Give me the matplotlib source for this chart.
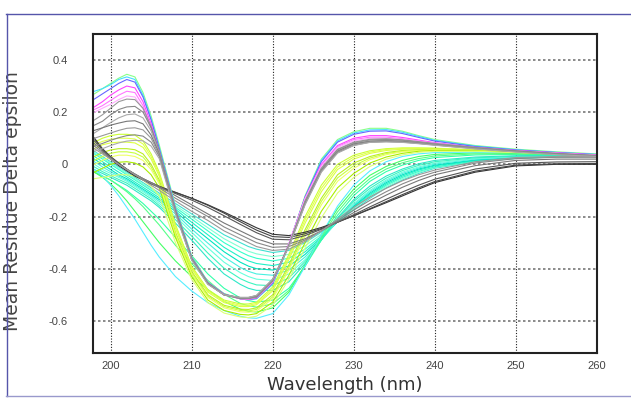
import matplotlib
matplotlib.use("Agg")
import matplotlib.pyplot as plt
from matplotlib.lines import Line2D

# longitudes de onda (nm)
wavelength = [198, 199, 200, 201, 202, 203, 204, 205, 206, 208, 210, 212, 214, 216, 217,
              218, 220, 222, 224, 226, 228, 230, 232, 234, 236, 238, 240, 245, 250, 255, 260]

# espectros turquesa (se despliegan)
turq_spectra = [
    [0.05, 0.03, 0.01, -0.01, -0.03, -0.05, -0.07, -0.09, -0.11, -0.15, -0.19, -0.23, -0.27, -0.30, -0.315,
     -0.325, -0.338, -0.33, -0.30, -0.26, -0.22, -0.175, -0.13, -0.09, -0.06, -0.035, -0.015, 0.01, 0.022, 0.028, 0.03],
    [0.045, 0.025, 0.005, -0.015, -0.035, -0.055, -0.075, -0.095, -0.115, -0.158, -0.20, -0.243, -0.285, -0.318, -0.333,
     -0.343, -0.354, -0.345, -0.312, -0.268, -0.22, -0.17, -0.125, -0.085, -0.055, -0.031, -0.012, 0.012, 0.023, 0.029, 0.031],
    [0.04, 0.02, 0.0, -0.02, -0.04, -0.06, -0.08, -0.10, -0.12, -0.165, -0.21, -0.255, -0.30, -0.335, -0.35,
     -0.36, -0.37, -0.36, -0.325, -0.275, -0.22, -0.165, -0.12, -0.08, -0.05, -0.027, -0.01, 0.013, 0.023, 0.029, 0.031],
    [0.03, 0.01, -0.01, -0.03, -0.048, -0.068, -0.088, -0.108, -0.128, -0.172, -0.222, -0.27, -0.318, -0.355, -0.37,
     -0.38, -0.388, -0.375, -0.335, -0.28, -0.22, -0.162, -0.115, -0.075, -0.045, -0.022, -0.006, 0.015, 0.025, 0.03, 0.032],
    [0.02, 0.0, -0.02, -0.04, -0.055, -0.075, -0.095, -0.115, -0.135, -0.18, -0.235, -0.285, -0.335, -0.375, -0.39,
     -0.40, -0.405, -0.39, -0.345, -0.285, -0.22, -0.16, -0.11, -0.07, -0.04, -0.018, -0.003, 0.017, 0.026, 0.031, 0.032],
    [0.01, -0.01, -0.028, -0.045, -0.06, -0.08, -0.10, -0.12, -0.142, -0.19, -0.248, -0.302, -0.355, -0.395, -0.41,
     -0.42, -0.425, -0.405, -0.355, -0.288, -0.218, -0.155, -0.105, -0.065, -0.035, -0.014, 0.001, 0.02, 0.028, 0.032, 0.033],
    [0.0, -0.02, -0.035, -0.05, -0.065, -0.085, -0.105, -0.125, -0.15, -0.20, -0.26, -0.32, -0.375, -0.415, -0.43,
     -0.44, -0.445, -0.42, -0.365, -0.29, -0.215, -0.15, -0.10, -0.06, -0.03, -0.01, 0.005, 0.022, 0.03, 0.033, 0.034],
    [-0.01, -0.028, -0.043, -0.058, -0.072, -0.092, -0.112, -0.132, -0.158, -0.212, -0.275, -0.34, -0.398, -0.438, -0.452,
     -0.462, -0.465, -0.435, -0.372, -0.29, -0.21, -0.142, -0.092, -0.053, -0.024, -0.004, 0.01, 0.025, 0.031, 0.034, 0.034],
    [-0.02, -0.035, -0.05, -0.065, -0.08, -0.10, -0.12, -0.14, -0.165, -0.225, -0.29, -0.36, -0.42, -0.46, -0.475,
     -0.483, -0.483, -0.45, -0.38, -0.29, -0.205, -0.135, -0.083, -0.045, -0.018, 0.002, 0.015, 0.028, 0.033, 0.035, 0.035],
    [-0.03, -0.045, -0.06, -0.08, -0.10, -0.125, -0.15, -0.18, -0.21, -0.28, -0.35, -0.42, -0.475, -0.512, -0.522,
     -0.528, -0.52, -0.475, -0.39, -0.29, -0.195, -0.12, -0.065, -0.028, -0.003, 0.015, 0.026, 0.036, 0.038, 0.037, 0.036],
    [-0.03, -0.045, -0.06, -0.082, -0.105, -0.132, -0.162, -0.197, -0.232, -0.31, -0.38, -0.445, -0.498, -0.533, -0.542,
     -0.547, -0.535, -0.483, -0.388, -0.28, -0.182, -0.108, -0.054, -0.018, 0.006, 0.022, 0.032, 0.04, 0.04, 0.038, 0.036],
    [-0.03, -0.05, -0.075, -0.105, -0.14, -0.18, -0.22, -0.26, -0.30, -0.37, -0.43, -0.48, -0.525, -0.555, -0.563,
     -0.566, -0.55, -0.49, -0.385, -0.27, -0.17, -0.095, -0.042, -0.008, 0.015, 0.03, 0.038, 0.044, 0.042, 0.04, 0.037],
    [-0.02, -0.045, -0.08, -0.12, -0.165, -0.21, -0.26, -0.31, -0.355, -0.43, -0.485, -0.53, -0.56, -0.582, -0.588,
     -0.59, -0.572, -0.50, -0.39, -0.27, -0.16, -0.08, -0.025, 0.01, 0.03, 0.04, 0.045, 0.047, 0.045, 0.041, 0.038],
]
turq_colors = ["#40E0D0", "#7FFFD4", "#33FFCC", "#20F0C8", "#00E5C0", "#48F0E0", "#66FFDD",
               "#3CF5C0", "#2EE8C8", "#33FFAA", "#55FF88", "#44FF66", "#55EEFF"]

# espectros amarillo-verde
yellow_spectra = [
    [0.085, 0.10, 0.11, 0.115, 0.115, 0.112, 0.09, 0.04, -0.03, -0.23, -0.39, -0.48, -0.52, -0.535, -0.535,
     -0.528, -0.47, -0.345, -0.20, -0.08, 0.0, 0.035, 0.052, 0.06, 0.063, 0.063, 0.062, 0.055, 0.048, 0.04, 0.035],
    [0.075, 0.088, 0.096, 0.10, 0.10, 0.097, 0.078, 0.03, -0.038, -0.238, -0.395, -0.485, -0.525, -0.54, -0.54,
     -0.533, -0.478, -0.355, -0.212, -0.092, -0.01, 0.028, 0.047, 0.057, 0.061, 0.062, 0.061, 0.055, 0.048, 0.04, 0.035],
    [0.06, 0.075, 0.082, 0.085, 0.085, 0.082, 0.065, 0.02, -0.045, -0.245, -0.40, -0.49, -0.53, -0.545, -0.545,
     -0.538, -0.485, -0.365, -0.225, -0.105, -0.02, 0.02, 0.042, 0.053, 0.058, 0.06, 0.06, 0.055, 0.048, 0.04, 0.035],
    [0.03, 0.045, 0.055, 0.06, 0.06, 0.056, 0.04, 0.0, -0.06, -0.26, -0.41, -0.50, -0.54, -0.555, -0.556,
     -0.55, -0.50, -0.385, -0.25, -0.13, -0.04, 0.005, 0.03, 0.045, 0.053, 0.056, 0.058, 0.054, 0.047, 0.04, 0.035],
    [0.015, 0.03, 0.042, 0.048, 0.048, 0.043, 0.028, -0.01, -0.068, -0.265, -0.415, -0.505, -0.545, -0.56, -0.562,
     -0.556, -0.508, -0.395, -0.262, -0.142, -0.052, -0.005, 0.024, 0.041, 0.05, 0.054, 0.056, 0.053, 0.047, 0.04, 0.035],
    [0.0, 0.015, 0.028, 0.035, 0.035, 0.03, 0.015, -0.02, -0.075, -0.27, -0.42, -0.51, -0.55, -0.565, -0.567,
     -0.562, -0.515, -0.405, -0.275, -0.155, -0.065, -0.015, 0.018, 0.037, 0.048, 0.053, 0.055, 0.053, 0.047, 0.04, 0.035],
    [-0.03, -0.015, 0.0, 0.008, 0.01, 0.005, -0.01, -0.04, -0.09, -0.28, -0.43, -0.52, -0.56, -0.575, -0.577,
     -0.572, -0.528, -0.425, -0.30, -0.18, -0.09, -0.035, 0.005, 0.028, 0.042, 0.05, 0.053, 0.052, 0.046, 0.04, 0.035],
    [-0.055, -0.05, -0.045, -0.04, -0.04, -0.045, -0.06, -0.085, -0.12, -0.30, -0.44, -0.53, -0.57, -0.585, -0.587,
     -0.582, -0.54, -0.44, -0.32, -0.205, -0.11, -0.05, -0.008, 0.02, 0.036, 0.046, 0.05, 0.05, 0.045, 0.04, 0.035],
]
yellow_colors = ["#CCFF33", "#E0FF50", "#DDFF44", "#BBEE22", "#C8FF40", "#EEFF66", "#AAEE00", "#DDFF77"]

# espectros grises oscuros (desnaturalizados)
dark_spectra = [
    [0.10, 0.055, 0.02, -0.005, -0.025, -0.045, -0.06, -0.075, -0.088, -0.108, -0.13, -0.155, -0.183, -0.213, -0.228,
     -0.243, -0.268, -0.273, -0.26, -0.242, -0.22, -0.197, -0.172, -0.147, -0.121, -0.095, -0.07, -0.03, -0.006, 0.0, 0.0],
    [0.10, 0.06, 0.03, 0.005, -0.018, -0.038, -0.055, -0.07, -0.084, -0.107, -0.13, -0.157, -0.187, -0.22, -0.236,
     -0.252, -0.277, -0.28, -0.266, -0.246, -0.222, -0.197, -0.17, -0.143, -0.116, -0.09, -0.066, -0.026, -0.003, 0.002, 0.003],
    [0.09, 0.055, 0.027, 0.003, -0.02, -0.04, -0.057, -0.072, -0.087, -0.112, -0.137, -0.165, -0.197, -0.23, -0.246,
     -0.262, -0.287, -0.289, -0.273, -0.249, -0.222, -0.193, -0.163, -0.134, -0.106, -0.08, -0.057, -0.018, 0.004, 0.009, 0.01],
    [0.08, 0.05, 0.025, 0.0, -0.02, -0.038, -0.055, -0.07, -0.085, -0.12, -0.155, -0.19, -0.225, -0.255, -0.27,
     -0.285, -0.305, -0.305, -0.285, -0.255, -0.22, -0.185, -0.15, -0.118, -0.088, -0.062, -0.04, -0.005, 0.015, 0.02, 0.02],
    [0.07, 0.045, 0.02, 0.0, -0.02, -0.037, -0.055, -0.072, -0.09, -0.13, -0.165, -0.20, -0.24, -0.27, -0.285,
     -0.30, -0.318, -0.315, -0.29, -0.255, -0.215, -0.175, -0.138, -0.105, -0.075, -0.05, -0.03, 0.005, 0.022, 0.027, 0.027],
    [0.06, 0.04, 0.02, 0.0, -0.02, -0.04, -0.06, -0.08, -0.10, -0.14, -0.18, -0.215, -0.255, -0.285, -0.30,
     -0.315, -0.33, -0.325, -0.295, -0.255, -0.21, -0.165, -0.125, -0.092, -0.063, -0.04, -0.022, 0.01, 0.026, 0.03, 0.03],
]
dark_colors = ["#333333", "#444444", "#555555", "#777777", "#888888", "#999999"]

# espectros plegados (colores)
folded_spectra = [
    [0.27, 0.29, 0.31, 0.33, 0.345, 0.335, 0.275, 0.185, 0.075, -0.16, -0.35, -0.45, -0.495, -0.515, -0.52,
     -0.515, -0.46, -0.31, -0.12, 0.02, 0.095, 0.125, 0.138, 0.138, 0.127, 0.11, 0.095, 0.072, 0.058, 0.048, 0.04],
    [0.28, 0.29, 0.305, 0.325, 0.335, 0.325, 0.265, 0.175, 0.065, -0.165, -0.355, -0.452, -0.497, -0.515, -0.52,
     -0.515, -0.458, -0.31, -0.125, 0.015, 0.09, 0.12, 0.132, 0.133, 0.123, 0.107, 0.092, 0.07, 0.056, 0.046, 0.038],
    [0.25, 0.27, 0.29, 0.31, 0.325, 0.315, 0.258, 0.17, 0.06, -0.17, -0.357, -0.453, -0.497, -0.515, -0.518,
     -0.513, -0.455, -0.305, -0.125, 0.01, 0.085, 0.115, 0.127, 0.128, 0.118, 0.103, 0.089, 0.068, 0.055, 0.045, 0.037],
    [0.22, 0.24, 0.265, 0.285, 0.30, 0.293, 0.24, 0.155, 0.05, -0.175, -0.36, -0.455, -0.498, -0.515, -0.518,
     -0.512, -0.452, -0.305, -0.13, 0.0, 0.072, 0.10, 0.11, 0.11, 0.103, 0.093, 0.083, 0.065, 0.053, 0.044, 0.036],
    [0.21, 0.225, 0.245, 0.265, 0.28, 0.275, 0.225, 0.145, 0.045, -0.178, -0.362, -0.456, -0.50, -0.515, -0.516,
     -0.51, -0.45, -0.305, -0.13, -0.005, 0.068, 0.095, 0.104, 0.104, 0.098, 0.09, 0.081, 0.064, 0.052, 0.043, 0.035],
    [0.20, 0.215, 0.23, 0.248, 0.262, 0.258, 0.212, 0.137, 0.04, -0.18, -0.364, -0.457, -0.50, -0.514, -0.515,
     -0.508, -0.448, -0.305, -0.132, -0.008, 0.064, 0.09, 0.10, 0.10, 0.095, 0.088, 0.08, 0.063, 0.051, 0.042, 0.034],
]
folded_colors = ["#88FF88", "#44DDFF", "#6666FF", "#FF44FF", "#FF77FF", "#FFAAFF"]

# espectros grises intermedios
gray_spectra = [
    [0.17, 0.19, 0.215, 0.24, 0.25, 0.248, 0.215, 0.145, 0.05, -0.175, -0.36, -0.455, -0.50, -0.515, -0.515,
     -0.51, -0.448, -0.31, -0.14, -0.015, 0.058, 0.085, 0.096, 0.098, 0.094, 0.087, 0.08, 0.065, 0.052, 0.042, 0.034],
    [0.15, 0.165, 0.19, 0.21, 0.22, 0.222, 0.20, 0.14, 0.05, -0.175, -0.36, -0.455, -0.50, -0.513, -0.513,
     -0.507, -0.445, -0.31, -0.142, -0.018, 0.055, 0.082, 0.093, 0.095, 0.092, 0.085, 0.078, 0.064, 0.051, 0.041, 0.033],
    [0.12, 0.14, 0.16, 0.178, 0.19, 0.193, 0.178, 0.128, 0.045, -0.178, -0.362, -0.457, -0.50, -0.512, -0.512,
     -0.505, -0.443, -0.31, -0.145, -0.02, 0.052, 0.08, 0.09, 0.092, 0.089, 0.083, 0.077, 0.063, 0.05, 0.04, 0.032],
    [0.13, 0.14, 0.15, 0.158, 0.165, 0.167, 0.155, 0.112, 0.04, -0.18, -0.363, -0.457, -0.50, -0.512, -0.512,
     -0.505, -0.443, -0.312, -0.148, -0.022, 0.05, 0.078, 0.088, 0.09, 0.088, 0.082, 0.076, 0.062, 0.05, 0.04, 0.032],
    [0.10, 0.11, 0.12, 0.13, 0.138, 0.14, 0.132, 0.10, 0.035, -0.183, -0.364, -0.458, -0.50, -0.511, -0.511,
     -0.504, -0.442, -0.313, -0.15, -0.025, 0.047, 0.075, 0.086, 0.088, 0.086, 0.081, 0.075, 0.061, 0.049, 0.039, 0.031],
    [0.07, 0.08, 0.092, 0.102, 0.11, 0.113, 0.108, 0.085, 0.03, -0.185, -0.365, -0.458, -0.50, -0.51, -0.51,
     -0.503, -0.44, -0.313, -0.152, -0.028, 0.045, 0.073, 0.085, 0.087, 0.085, 0.08, 0.074, 0.06, 0.048, 0.038, 0.03],
    [0.05, 0.06, 0.072, 0.082, 0.089, 0.092, 0.09, 0.07, 0.022, -0.19, -0.367, -0.46, -0.50, -0.51, -0.51,
     -0.502, -0.44, -0.315, -0.155, -0.03, 0.043, 0.072, 0.084, 0.086, 0.084, 0.079, 0.073, 0.059, 0.047, 0.037, 0.03],
]
gray_colors = ["#999999", "#888888", "#AAAAAA", "#777777", "#999999", "#888888", "#AAAAAA"]

xticks = [200, 210, 220, 230, 240, 250, 260]
yticks = [-0.6, -0.4, -0.2, 0, 0.2, 0.4]

fig = plt.figure(figsize=(6.31, 3.98), dpi=100)
ax = fig.add_axes([0.147, 0.113, 0.799, 0.802])

# dibujamos cada grupo
for grupo, colores in [(turq_spectra, turq_colors), (yellow_spectra, yellow_colors),
                       (dark_spectra, dark_colors), (folded_spectra, folded_colors),
                       (gray_spectra, gray_colors)]:
    for y, c in zip(grupo, colores):
        ax.plot(wavelength, y, color=c, lw=0.8)

ax.set_xlim(197.8, 260)
ax.set_ylim(-0.723, 0.5)
ax.set_xticks(xticks)
ax.set_yticks(yticks)
ax.set_yticklabels(["%g" % v for v in yticks])
ax.tick_params(length=0, labelsize=8, colors="#444444")
for lab in ax.get_xticklabels() + ax.get_yticklabels():
    lab.set_family("Liberation Sans")
ax.tick_params(axis="y", pad=18)
ax.tick_params(axis="x", pad=6)

# rejilla punteada
ax.grid(axis="x", color="#222222", ls=(0, (1, 1.5)), lw=0.8)
ax.grid(axis="y", color="#777777", ls=(0, (1.5, 1.5)), lw=1.2)
for s in ax.spines.values():
    s.set_color("#222222")
    s.set_linewidth(1.5)

ax.set_xlabel("Wavelength (nm)", fontsize=13, family="DejaVu Sans", color="#333333")
ax.set_ylabel("Mean Residue Delta epsilon", fontsize=13.5, family="DejaVu Sans", color="#444444")
ax.xaxis.set_label_coords(0.5, -0.072)
ax.yaxis.set_label_coords(-0.14, 0.475)

# marco de la figura
W, H = 631, 398
fig.add_artist(Line2D([6 / W, 1], [1 - 13.5 / H] * 2, color="#5555AA", lw=1))
fig.add_artist(Line2D([6.5 / W] * 2, [1 - 13.5 / H, 1 - 396 / H], color="#5555AA", lw=1))
fig.add_artist(Line2D([6 / W, 1], [1 - 396 / H] * 2, color="#9999CC", lw=1))

fig.savefig("out.png", dpi=100)
